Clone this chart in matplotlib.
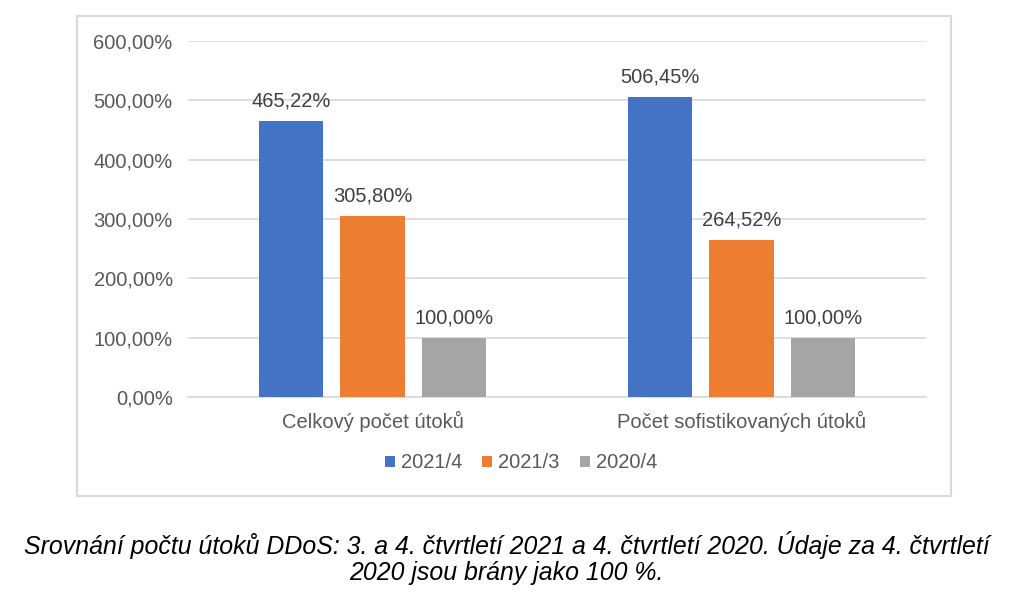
import matplotlib
matplotlib.use("Agg")
import matplotlib.pyplot as plt
from matplotlib.patches import Rectangle
import numpy as np

categories = ["Celkový počet útoků", "Počet sofistikovaných útoků"]
series_names = ["2021/4", "2021/3", "2020/4"]
values_2021_4 = [465.22, 506.45]
values_2021_3 = [305.80, 264.52]
values_2020_4 = [100.00, 100.00]
yticks = [0, 100, 200, 300, 400, 500, 600]
caption = ("Srovnání počtu útoků DDoS: 3. a 4. čtvrtletí 2021 a 4. čtvrtletí 2020. Údaje za 4. čtvrtletí\n"
           "2020 jsou brány jako 100 %.")

colors = ["#4472C4", "#ED7D31", "#A5A5A5"]
text_color = "#595959"
plt.rcParams['font.family'] = ['Liberation Sans', 'DejaVu Sans']

fig = plt.figure(figsize=(10.13, 6.08), dpi=100)
W, H = 1013, 608

# chart border
fig.patches.append(Rectangle((77 / W, 1 - 496 / H), (951 - 77) / W, (496 - 16) / H,
                             transform=fig.transFigure, fill=False,
                             edgecolor="#D9D9D9", linewidth=1.5))

ax = fig.add_axes([188 / W, 1 - 397 / H, (926 - 188) / W, (397 - 41) / H])
x = np.arange(len(categories))
width = 0.174
offset = 0.2215
fs = 14.5
all_vals = [values_2021_4, values_2021_3, values_2020_4]
for i, (vals, name, c) in enumerate(zip(all_vals, series_names, colors)):
    pos = x + (i - 1) * offset
    bars = ax.bar(pos, vals, width=width, color=c, label=name, zorder=3)
    for b, v in zip(bars, vals):
        ax.text(b.get_x() + b.get_width() / 2, v + 17,
                f"{v:.2f}".replace(".", ",") + "%",
                ha="center", va="bottom", fontsize=fs, color="#404040")

ax.set_xlim(-0.5, 1.5)
ax.set_ylim(0, 600)
ax.set_yticks(yticks)
ax.set_yticklabels([f"{t:.2f}".replace(".", ",") + "%" for t in yticks])
ax.set_xticks(x)
ax.set_xticklabels(categories)
ax.tick_params(axis="both", length=0, labelsize=fs, labelcolor=text_color)
ax.tick_params(axis="y", pad=11)
ax.tick_params(axis="x", pad=10)
ax.grid(axis="y", color="#D9D9D9", linewidth=1.2, zorder=0)
for s in ["top", "right", "left"]:
    ax.spines[s].set_visible(False)
ax.spines["bottom"].set_color("#D9D9D9")
ax.spines["bottom"].set_linewidth(1.2)

leg = fig.legend(loc="center", bbox_to_anchor=(521 / W, 1 - 463 / H), ncol=3,
                 frameon=False, fontsize=fs, handlelength=0.5, handleheight=0.5,
                 handletextpad=0.3, columnspacing=1.0, labelcolor=text_color)

fig.text(0.5, 1 - 558 / H, caption, ha="center", va="center", fontsize=17.9,
         style="italic", color="black", linespacing=1.1)

fig.savefig("out.png", dpi=100)
